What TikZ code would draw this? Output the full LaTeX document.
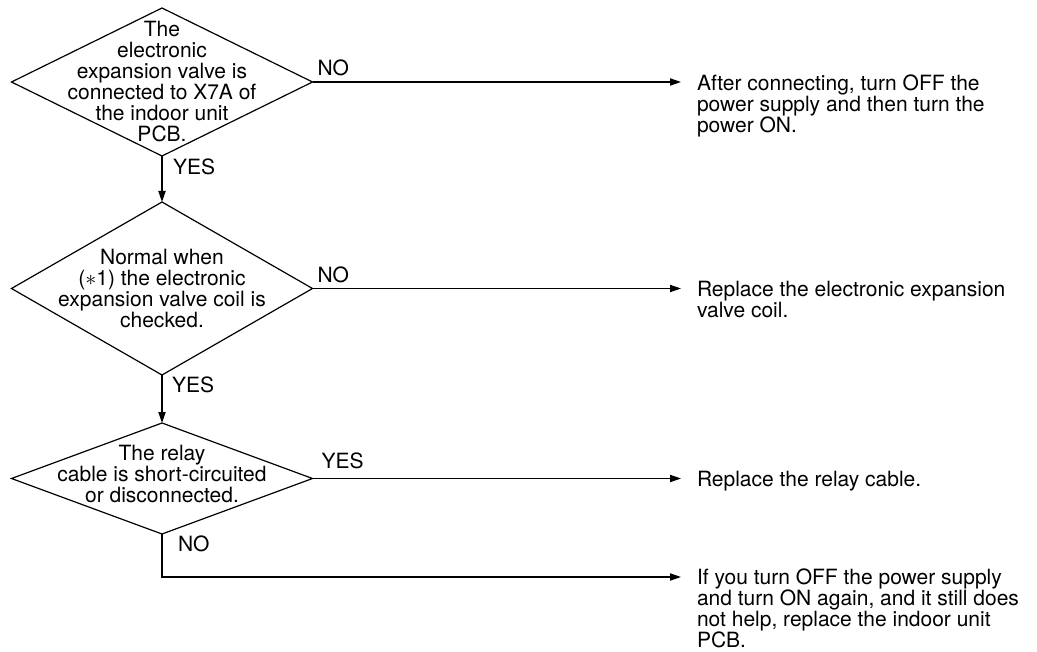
\documentclass[tikz,border=0pt]{standalone}
\usepackage{fontspec}
\setmainfont{TeX Gyre Heros}
\usetikzlibrary{arrows.meta,shapes.geometric}

\begin{document}
\begin{tikzpicture}[x=0.5pt,y=-0.5pt,
    every node/.style={font=\fontsize{10.5}{10.5}\selectfont,inner sep=0pt,outer sep=0pt},
    dec/.style={draw,diamond,line width=0.6pt,minimum width=150.5pt},
    txt/.style={align=left,anchor=north west,yshift=4pt},
    flow/.style={-{Triangle[length=5.5pt,width=3.6pt]},line width=0.6pt}]
  \useasboundingbox (0,0) rectangle (1037,652);

  % checks
  \node[dec,minimum height=74pt] (q1) at (162,82) {};
  \node[dec,minimum height=86.5pt] (q2) at (162,288.5) {};
  \node[dec,minimum height=55.5pt] (q3) at (162,478.5) {};
  \node[align=center] (t1) at (q1.center)
    {The\\electronic\\expansion valve is\\connected to X7A of\\the indoor unit\\PCB.};
  \node[align=center] (t2) at (q2.center)
    {Normal when\\($\ast$1) the electronic\\expansion valve coil is\\checked.};
  \node[align=center] (t3) at ([yshift=2.5pt]q3.center)
    {The relay\\cable is short-circuited\\or disconnected.};

  % remedies
  \node[txt] (r1) at (697,83)
    {After connecting, turn OFF the\\power supply and then turn the\\power ON.};
  \node[txt] (r2) at (697,289)
    {Replace the electronic expansion\\valve coil.};
  \node[txt] (r3) at (697,479) {Replace the relay cable.};
  \node[txt] (r4) at (697,577)
    {If you turn OFF the power supply\\and turn ON again, and it still does\\not help, replace the indoor unit\\PCB.};

  \draw[flow](q1.south)--(q2.north); \draw[flow](q2.south)--(q3.north);
  \draw[flow,shorten >=8pt](q1.east)--(q1.east -| r1.west);
  \draw[flow,shorten >=8pt](q2.east)--(q2.east -| r2.west);
  \draw[flow,shorten >=8pt](q3.east)--(q3.east -| r3.west);
  \draw[flow,shorten >=8pt](q3.south)|-([yshift=-4pt]r4.north west);

  \node[anchor=north west] (y1) at ([xshift=5.5pt,yshift=-1.5pt]q1.south) {YES};
  \node[anchor=north west] (y2) at ([xshift=5pt,yshift=-1pt]q2.south) {YES};
  \node[anchor=north west] (n3) at ([xshift=8pt,yshift=-1pt]q3.south) {NO};
  \node[anchor=south west] (n1) at ([xshift=2.5pt,yshift=3pt]q1.east) {NO};
  \node[anchor=south west] (n2) at ([xshift=2.5pt,yshift=3pt]q2.east) {NO};
  \node[anchor=south west] (y3) at ([xshift=4.5pt,yshift=5pt]q3.east) {YES};
\end{tikzpicture}
\end{document}
